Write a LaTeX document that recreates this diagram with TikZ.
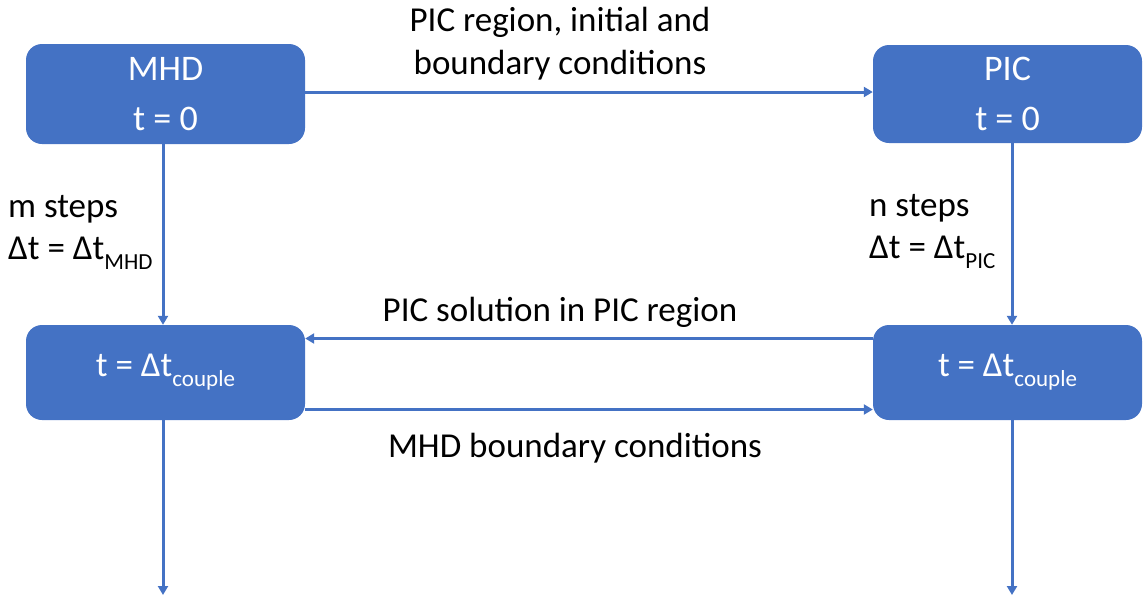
\documentclass[tikz,border=0pt]{standalone}
\usepackage{fontspec}
\setmainfont{Carlito}
\usepackage{xcolor}
\usetikzlibrary{arrows.meta, positioning}
\definecolor{boxblue}{HTML}{4472C4}
\newcommand{\lowtext}[1]{\raisebox{-10pt}{\fontsize{23}{23}\selectfont #1}}

\begin{document}
\begin{tikzpicture}[
      x=1pt, y=-1pt,
      every node/.style={font=\fontsize{35}{42}\selectfont},
      simbox/.style={rectangle, fill=boxblue, rounded corners=16pt, text=white, align=center, inner sep=0pt},
      flow/.style={draw=boxblue, line width=3pt, -{Triangle[length=9pt, width=10pt]}},
      note/.style={align=left, inner sep=0pt}
    ]
      \useasboundingbox (0,0) rectangle (1146,598);
      % simulation boxes
      \node[simbox, minimum width=279pt, minimum height=100pt, font=\fontsize{36}{50}\selectfont] (mhd) at (165.5,94) {MHD\\t = 0};
      \node[simbox, minimum width=269pt, minimum height=98pt, font=\fontsize{36}{50}\selectfont] (pic) at (1007.5,94) {PIC\\t = 0};
      \node[simbox, minimum width=279pt, minimum height=95pt] (mhdc) at (165.5,372.5) {t = Δt\lowtext{couple}};
      \node[simbox, minimum width=269pt, minimum height=95pt] (picc) at (1007.5,372.5) {t = Δt\lowtext{couple}};
      \coordinate (mhdend) at (163,595);
      \coordinate (picend) at (1012,595);
      % exchange between the codes
      \draw[flow] ([yshift=2pt]mhd.east) -- ([yshift=2pt]pic.west);
      \draw[flow] ([yshift=34pt]picc.west) -- ([yshift=34pt]mhdc.east);
      \draw[flow] ([yshift=-37pt]mhdc.east) -- ([yshift=-37pt]picc.west);
      % time stepping
      \draw[flow] ([xshift=-2.5pt]mhd.south) -- ([xshift=-2.5pt]mhdc.north);
      \draw[flow] ([xshift=4.5pt]pic.south) -- ([xshift=4.5pt]picc.north);
      \draw[flow] ([xshift=-2.5pt]mhdc.south) -- (mhdend);
      \draw[flow] ([xshift=4.5pt]picc.south) -- (picend);
      % labels
      \node[note, align=center, font=\fontsize{35}{43}\selectfont] (init) at (560,44) {PIC region, initial and\\boundary conditions};
      \node[note, anchor=base] (back) at (560,321) {PIC solution in PIC region};
      \node[note, anchor=base] (bound) at (575,457) {MHD boundary conditions};
      \node[note, anchor=west] (msteps) at (8,232) {m steps\\Δt = Δt\lowtext{MHD}};
      \node[note, anchor=west] (nsteps) at (869,232) {n steps\\Δt = Δt\lowtext{PIC}};
    \end{tikzpicture}
\end{document}
